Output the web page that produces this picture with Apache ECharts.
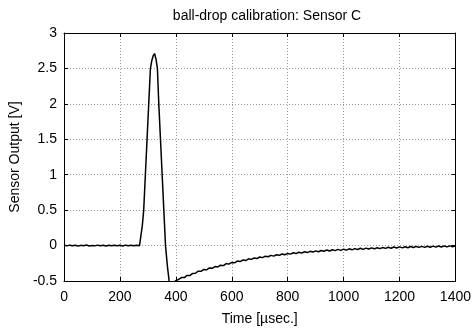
<!DOCTYPE html>
<html>
<head>
<meta charset="utf-8">
<script src="https://cdn.jsdelivr.net/npm/echarts@6/dist/echarts.min.js"></script>
<style>
  html, body { margin: 0; padding: 0; background: #fff; }
  #chart { width: 474px; height: 333px; }
</style>
</head>
<body>
<div id="chart"></div>
<script>
// Ball-drop calibration trace, Sensor C
const chartTitle = 'ball-drop calibration: Sensor C';
const xAxisName = 'Time [\u00b5sec.]';
const yAxisName = 'Sensor Output [V]';

const xTicks = { min: 0, max: 1400, step: 200 };
const yTicks = { min: -0.5, max: 3, step: 0.5 };

// sample times in microseconds
const timeUs = [
  0, 10, 20, 30, 40, 50, 60, 70, 80, 90, 100, 110, 120, 130, 140, 150, 160, 170, 180, 190,
  200, 210, 220, 230, 240, 250, 260, 270, 274,
  280, 285, 291, 297, 303, 309, 314, 319, 324, 329, 334, 339, 345, 351, 357, 363, 370, 376,
  382, 388, 393, 398,
  400, 410, 420, 430, 440, 450, 460, 470, 480, 490, 500, 510, 520, 530, 540, 550, 560, 570,
  580, 590, 600, 610, 620, 630, 640, 650, 660, 670, 680, 690, 700, 710, 720, 730, 740, 750,
  760, 770, 780, 790, 800, 810, 820, 830, 840, 850, 860, 870, 880, 890, 900, 910, 920, 930,
  940, 950, 960, 970, 980, 990, 1000, 1010, 1020, 1030, 1040, 1050, 1060, 1070, 1080, 1090,
  1100, 1110, 1120, 1130, 1140, 1150, 1160, 1170, 1180, 1190, 1200, 1210, 1220, 1230, 1240,
  1250, 1260, 1270, 1280, 1290, 1300, 1310, 1320, 1330, 1340, 1350, 1360, 1370, 1380, 1390, 1400
];

// sensor output in volts
const sensorV = [
  0.005, -0.004, 0.006, -0.003, 0.004, -0.006, 0.003, -0.002, 0.007, -0.005, 0.002, -0.004,
  0.006, -0.003, 0.004, -0.005, 0.003, -0.004, 0.005, -0.002, 0.004, -0.005, 0.006, -0.003,
  0.004, -0.004, 0.005, -0.002, 0.0,
  0.28, 0.5, 1.0, 1.5, 2.0, 2.5, 2.61, 2.68, 2.71, 2.63, 2.5, 2.0, 1.5, 1.0, 0.5, 0.0, -0.3, -0.5,
  -0.56, -0.58, -0.55, -0.5,
  -0.472, -0.478, -0.452, -0.451, -0.421, -0.424, -0.393, -0.391, -0.361, -0.364, -0.337,
  -0.343, -0.316, -0.321, -0.296, -0.302, -0.277, -0.283, -0.254, -0.262, -0.238, -0.243,
  -0.219, -0.226, -0.204, -0.211, -0.187, -0.195, -0.176, -0.183, -0.161, -0.170, -0.150,
  -0.158, -0.138, -0.149, -0.129, -0.138, -0.119, -0.130, -0.111, -0.121, -0.102, -0.113,
  -0.095, -0.106, -0.087, -0.099, -0.081, -0.092, -0.075, -0.087, -0.069, -0.080, -0.063,
  -0.076, -0.059, -0.071, -0.054, -0.068, -0.051, -0.064, -0.046, -0.060, -0.043, -0.056,
  -0.038, -0.053, -0.036, -0.049, -0.033, -0.046, -0.030, -0.043, -0.027, -0.040, -0.024,
  -0.037, -0.021, -0.034, -0.018, -0.032, -0.016, -0.030, -0.014, -0.028, -0.012, -0.026,
  -0.011, -0.025, -0.009, -0.024, -0.008, -0.022, -0.006, -0.021, -0.005, -0.019, -0.004,
  -0.018, -0.003
];

const trace = timeUs.map((t, i) => [t, sensorV[i]]);

const fontFamily = '"Liberation Sans", Arial, Helvetica, sans-serif';
const textStyle = { color: '#000', fontSize: 14, fontFamily };

const gridLine = { show: true, lineStyle: { color: '#9a9a9a', type: [1, 2], width: 1 } };
const frameLine = { show: true, onZero: false, lineStyle: { color: '#000', width: 1 } };
const innerTicks = { show: true, inside: true, length: 4, lineStyle: { color: '#000' } };

const chart = echarts.init(document.getElementById('chart'), null, { renderer: 'canvas' });
chart.setOption({
  animation: false,
  backgroundColor: '#fff',
  title: {
    text: chartTitle,
    left: 262, top: 4, textAlign: 'center',
    textStyle: { ...textStyle, fontWeight: 'normal' }
  },
  grid: { left: 63, right: 13, top: 33, bottom: 52, containLabel: false },
  xAxis: [
    {
      type: 'value', min: xTicks.min, max: xTicks.max, interval: xTicks.step,
      position: 'bottom',
      name: xAxisName, nameLocation: 'middle', nameGap: 31, nameTextStyle: textStyle,
      axisLine: frameLine, axisTick: innerTicks,
      axisLabel: { ...textStyle, margin: 9, formatter: v => String(v) },
      splitLine: gridLine
    },
    {
      type: 'value', min: xTicks.min, max: xTicks.max, interval: xTicks.step,
      position: 'top',
      axisLine: frameLine, axisTick: innerTicks,
      axisLabel: { show: false }, splitLine: { show: false }
    }
  ],
  yAxis: [
    {
      type: 'value', min: yTicks.min, max: yTicks.max, interval: yTicks.step,
      position: 'left',
      name: yAxisName, nameLocation: 'middle', nameGap: 35, nameTextStyle: textStyle,
      axisLine: frameLine, axisTick: innerTicks,
      axisLabel: { ...textStyle, margin: 7, formatter: v => String(v) },
      splitLine: gridLine
    },
    {
      type: 'value', min: yTicks.min, max: yTicks.max, interval: yTicks.step,
      position: 'right',
      axisLine: frameLine, axisTick: innerTicks,
      axisLabel: { show: false }, splitLine: { show: false }
    }
  ],
  series: [
    {
      type: 'line',
      data: trace,
      xAxisIndex: 0, yAxisIndex: 0,
      showSymbol: false,
      clip: true,
      lineStyle: { color: '#000', width: 1.5 },
      itemStyle: { color: '#000' }
    }
  ]
});
</script>
</body>
</html>
